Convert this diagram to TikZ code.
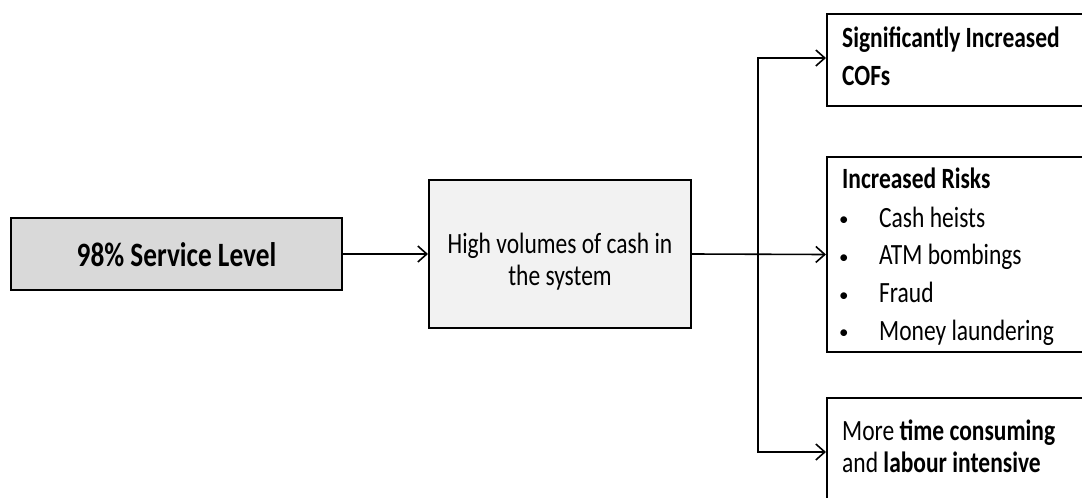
\documentclass[tikz,border=0pt]{standalone}
\usepackage{fontspec}
\setmainfont{Carlito}
\usepackage{graphicx}
\usetikzlibrary{arrows.meta}
\definecolor{leftfill}{HTML}{D9D9D9}
\definecolor{midfill}{HTML}{F2F2F2}
% text in the drawing is set slightly tall
\newcommand{\tallify}[1]{\scalebox{1}[1.25]{#1}}

\begin{document}
\begin{tikzpicture}[x=1pt,y=-1pt,
  box/.style={draw=black, line width=2pt, rectangle, inner sep=0pt},
  conn/.style={line width=1.6pt, -{Straight Barb[length=9pt,width=16pt,line width=1.6pt]}},
  txt/.style={inner sep=0pt, font=\fontsize{23.5}{28}\selectfont},
  lbl/.style={txt, anchor=base west},
  clbl/.style={txt, anchor=base},
  bullet/.style={inner sep=0pt, anchor=base west, font=\fontsize{19}{22}\selectfont}]
\useasboundingbox (0,0) rectangle (1082,498);
\clip (0,0) rectangle (1082,498);

% boxes
\node[box, fill=leftfill, minimum width=331pt, minimum height=72pt] (L) at (176.5,254) {};
\node[box, fill=midfill, minimum width=262pt, minimum height=148pt] (M) at (560,254) {};
\node[box, fill=white, minimum width=300pt, minimum height=92pt] (T) at (977,60) {};
\node[box, fill=white, minimum width=300pt, minimum height=195pt] (R) at (977,254.5) {};
\node[box, fill=white, minimum width=300pt, minimum height=108pt] (B) at (977,452) {};

% texts
\node[clbl, font=\bfseries\fontsize{27.3}{30}\selectfont] (Lt) at (176.5,266) {\tallify{98\% Service Level}};
\node[clbl] (Mt1) at (560,253) {\tallify{High volumes of cash in}};
\node[clbl] (Mt2) at (560,285) {\tallify{the system}};

\node[lbl, font=\bfseries\fontsize{23.5}{28}\selectfont] (Tt1) at (842,47) {\tallify{Significantly Increased}};
\node[lbl, font=\bfseries\fontsize{23.5}{28}\selectfont] (Tt2) at (842,85) {\tallify{COFs}};

\node[lbl, font=\bfseries\fontsize{23.5}{28}\selectfont] (Rh) at (842,188) {\tallify{Increased Risks}};
\foreach \y/\t [count=\i] in {227/Cash heists, 264.5/ATM bombings, 302.5/Fraud, 340/Money laundering}{
  \node[bullet] (Rb\i) at (839,\y-1.5) {•};
  \node[lbl] (Ri\i) at (879,\y) {\tallify{\t}};
}

\node[lbl] (Bt1) at (842,440) {\tallify{More \textbf{time consuming}}};
\node[lbl] (Bt2) at (842,472) {\tallify{and \textbf{labour intensive}}};

% connectors
\coordinate (J) at (758,254);
\draw[conn] (L.east) -- (M.west);
\draw[conn] (M.east) -- (R.west);
\draw[conn] (J) |- ([yshift=2pt]T.west);
\draw[conn] (J) |- (B.west);
\end{tikzpicture}
\end{document}
